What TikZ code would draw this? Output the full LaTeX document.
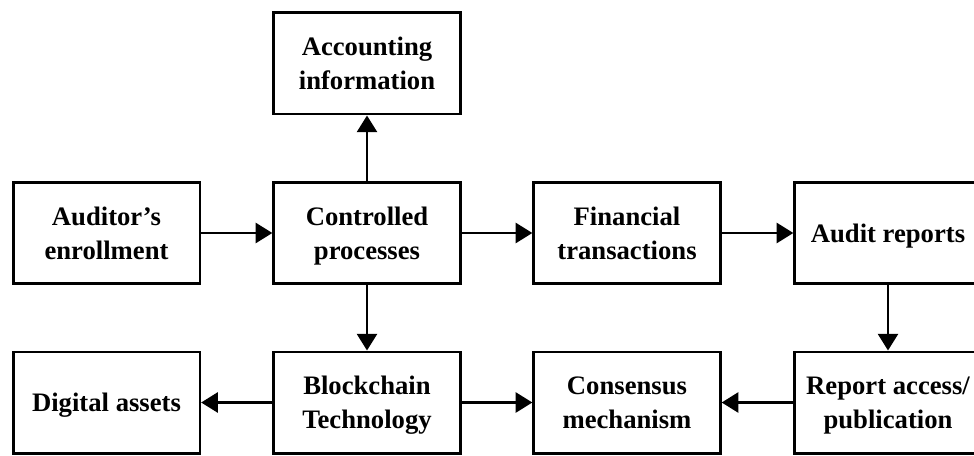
\documentclass[tikz,border=0pt]{standalone}
\usepackage{fontspec}
\setmainfont{Liberation Serif}
\usetikzlibrary{arrows.meta}
\tikzset{
  blockbox/.style={draw, line width=2pt, minimum width=140pt, minimum height=76pt, inner sep=2pt,
    align=center, font=\fontsize{20}{25.5}\selectfont\bfseries, text height=17.8pt, text depth=4.3pt},
  twolines/.style={text height=43.3pt},
  flowarrow/.style={line width=2pt, -{Triangle[width=15pt,length=12.5pt]}}
}
\begin{document}
\begin{tikzpicture}[x=0.75pt,y=0.75pt,yscale=-1,xscale=1]
	\useasboundingbox (0,0) rectangle (974,456);
	\clip (0,0) rectangle (974,456);
	
	%Top row
	\node [blockbox,twolines] (acc) at (367,63.5) {Accounting\\information};
	
	%Middle row
	\node [blockbox,twolines] (aud) at (106.5,233) {Auditor’s\\enrollment};
	\node [blockbox,twolines] (ctrl) at (367,233) {Controlled\\processes};
	\node [blockbox,twolines] (fin) at (627,233) {Financial\\transactions};
	\node [blockbox] (rep) at (888,233) {Audit reports};
	
	%Bottom row
	\node [blockbox] (dig) at (106.5,402.5) {Digital assets};
	\node [blockbox,twolines] (blk) at (367,402.5) {Blockchain\\Technology};
	\node [blockbox,twolines] (cons) at (627,402.5) {Consensus\\mechanism};
	\node [blockbox,twolines] (pub) at (888,402.5) {Report access/\\publication};
	
	%Connectors
	\draw [flowarrow] (aud) -- (ctrl);
	\draw [flowarrow] (ctrl) -- (acc);
	\draw [flowarrow] (ctrl) -- (fin);
	\draw [flowarrow] (fin) -- (rep);
	\draw [flowarrow] (ctrl) -- (blk);
	\draw [flowarrow] (rep) -- (pub);
	\draw [flowarrow] (blk) -- (dig);
	\draw [flowarrow] (blk) -- (cons);
	\draw [flowarrow] (pub) -- (cons);
\end{tikzpicture}
\end{document}
